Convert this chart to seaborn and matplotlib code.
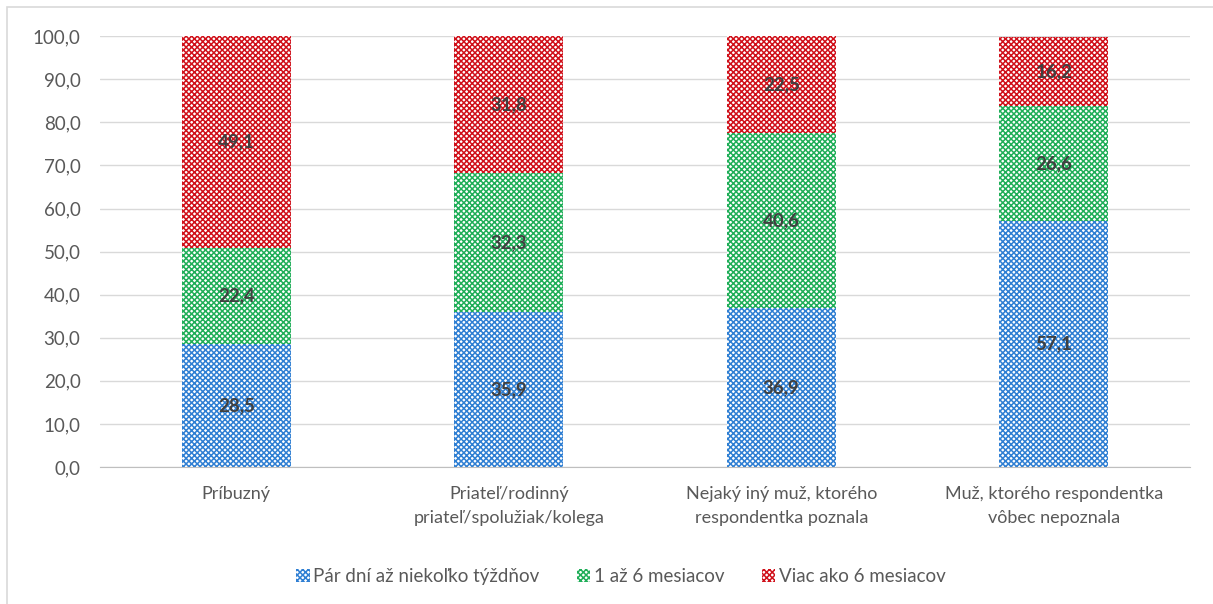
import pandas as pd
import matplotlib.pyplot as plt
import seaborn as sns
import numpy as np
from matplotlib.patches import Patch, Rectangle

# data
categories = ["Príbuzný",
              "Priateľ/rodinný\npriateľ/spolužiak/kolega",
              "Nejaký iný muž, ktorého\nrespondentka poznala",
              "Muž, ktorého respondentka\nvôbec nepoznala"]
series_names = ["Pár dní až niekoľko týždňov", "1 až 6 mesiacov", "Viac ako 6 mesiacov"]
few_weeks = [28.5, 35.9, 36.9, 57.1]
one_to_six = [22.4, 32.3, 40.6, 26.6]
over_six = [49.1, 31.8, 22.5, 16.2]
y_ticks = np.arange(0, 101, 10)

colors = ["#2f7fd3", "#1fae58", "#d0101a"]
HATCH = "xxxxxx"

sns.set_style("white")
plt.rcParams['font.family'] = ['Lato', 'DejaVu Sans']
plt.rcParams['hatch.linewidth'] = 1.1

fig = plt.figure(figsize=(12.13, 6.04), dpi=100)
ax = fig.add_axes([0.0824, 0.2268, 0.8986, 0.7132])

series = [few_weeks, one_to_six, over_six]
cum = np.cumsum(np.array(series), axis=0)

# draw cumulative totals from the top down so each layer covers the one above
for i in [2, 1, 0]:
    df = pd.DataFrame({"cat": categories, "val": cum[i]})
    sns.barplot(data=df, x="cat", y="val", ax=ax, width=0.4,
                color="white", edgecolor=colors[i], hatch=HATCH,
                linewidth=0, errorbar=None)

# segment labels
for i, vals in enumerate(series):
    bottoms = cum[i] - np.array(vals)
    for j, v in enumerate(vals):
        ax.text(j, bottoms[j] + v / 2, f"{v:.1f}".replace(".", ","),
                ha="center", va="center", fontsize=13.5, fontweight="bold",
                color="#404040")

ax.set_ylim(0, 100)
ax.set_xlim(-0.5, 3.5)
ax.set_yticks(y_ticks)
ax.set_yticklabels([f"{t:.1f}".replace(".", ",") for t in y_ticks],
                   fontsize=13.5, color="#595959")
ax.tick_params(axis="x", labelsize=13, labelcolor="#595959", pad=14, length=0)
for lbl in ax.get_xticklabels():
    lbl.set_linespacing(1.55)
ax.tick_params(axis="y", length=0, pad=14)
ax.set_xlabel("")
ax.set_ylabel("")
ax.yaxis.grid(True, color="#d9d9d9", linewidth=1)
ax.set_axisbelow(True)
for s in ["top", "right", "left"]:
    ax.spines[s].set_visible(False)
ax.spines["bottom"].set_color("#bfbfbf")

handles = [Patch(facecolor="white", edgecolor=c, hatch=HATCH, linewidth=0, label=n)
           for c, n in zip(colors, series_names)]
fig.legend(handles=handles, loc="center", bbox_to_anchor=(0.512, 0.045), ncol=3,
           frameon=False, fontsize=13.5, labelcolor="#595959",
           handlelength=0.7, handleheight=0.7, handletextpad=0.2, columnspacing=2.0)

# outer chart frame
fig.patches.append(Rectangle((0.006, -0.01), 1.1, 0.998, transform=fig.transFigure,
                             fill=False, edgecolor="#d9d9d9", linewidth=1.2))

fig.savefig("out.png", dpi=100)
